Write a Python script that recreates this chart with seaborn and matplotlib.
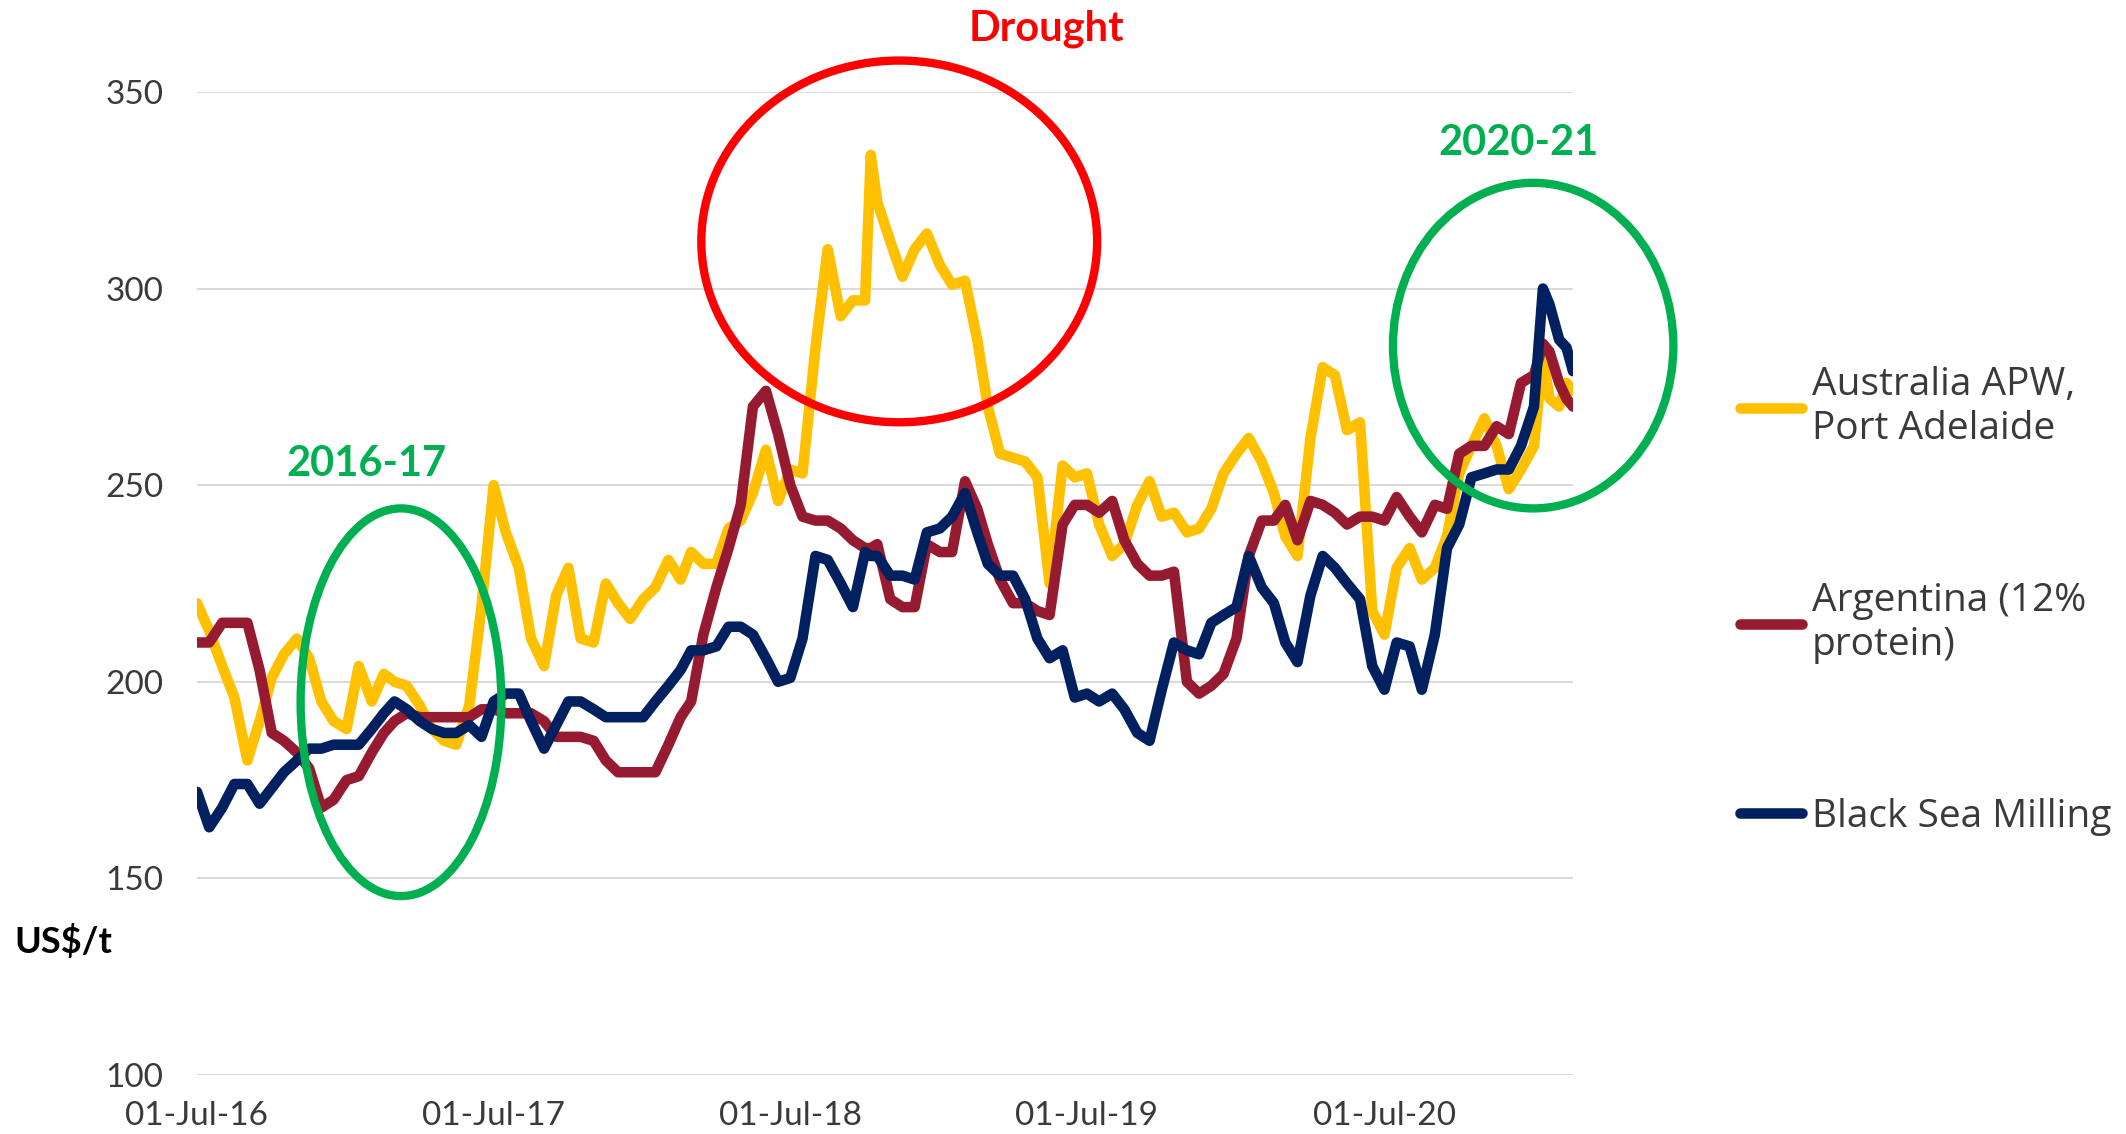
import matplotlib
matplotlib.use("Agg")
import matplotlib.pyplot as plt
import matplotlib.dates as mdates
from matplotlib.patches import Ellipse
import seaborn as sns
import pandas as pd

# ---------------- data ----------------
dates = [
    "2016-07-01", "2016-07-16", "2016-08-01", "2016-08-16", "2016-09-01", "2016-09-16",
    "2016-10-01", "2016-10-16", "2016-11-01", "2016-11-16", "2016-12-01", "2016-12-16",
    "2017-01-01", "2017-01-16", "2017-02-01", "2017-02-16", "2017-03-01", "2017-03-16",
    "2017-04-01", "2017-04-16", "2017-05-01", "2017-05-16", "2017-06-01", "2017-06-16",
    "2017-07-01", "2017-07-16", "2017-08-01", "2017-08-16", "2017-09-01", "2017-09-16",
    "2017-10-01", "2017-10-16", "2017-11-01", "2017-11-16", "2017-12-01", "2017-12-16",
    "2018-01-01", "2018-01-16", "2018-02-01", "2018-02-16", "2018-03-01", "2018-03-16",
    "2018-04-01", "2018-04-16", "2018-05-01", "2018-05-16", "2018-06-01", "2018-06-16",
    "2018-07-01", "2018-07-16", "2018-08-01", "2018-08-16", "2018-09-01", "2018-09-16",
    "2018-10-01", "2018-10-08", "2018-10-16", "2018-11-01", "2018-11-16", "2018-12-01",
    "2018-12-16",
    "2019-01-01", "2019-01-16", "2019-02-01", "2019-02-16", "2019-03-01", "2019-03-16",
    "2019-04-01", "2019-04-16", "2019-05-01", "2019-05-16", "2019-06-01", "2019-06-16",
    "2019-07-01", "2019-07-16", "2019-08-01", "2019-08-16", "2019-09-01", "2019-09-16",
    "2019-10-01", "2019-10-16", "2019-11-01", "2019-11-16", "2019-12-01", "2019-12-16",
    "2020-01-01", "2020-01-16", "2020-02-01", "2020-02-16", "2020-03-01", "2020-03-16",
    "2020-04-01", "2020-04-16", "2020-05-01", "2020-05-16", "2020-06-01", "2020-06-16",
    "2020-07-01", "2020-07-16", "2020-08-01", "2020-08-16", "2020-09-01", "2020-09-16",
    "2020-10-01", "2020-10-16", "2020-11-01", "2020-11-16", "2020-12-01", "2020-12-16",
    "2021-01-01", "2021-01-12", "2021-01-20", "2021-02-01", "2021-02-10", "2021-02-18",
]

australia_apw = [
    220, 213, 204, 196, 180, 190, 201, 207, 211, 206, 195, 190,
    188, 204, 195, 202, 200, 199, 194, 188, 185, 184, 194, 219,
    250, 238, 229, 211, 204, 222, 229, 211, 210, 225, 220, 216,
    221, 224, 231, 226, 233, 230, 230, 239, 241, 248, 259, 246,
    254, 253, 285, 310, 293, 297, 297, 334, 322, 312, 303, 310, 314,
    306, 301, 302, 287, 270, 258, 257, 256, 252, 225, 255, 252,
    253, 240, 232, 235, 245, 251, 242, 243, 238, 239, 244, 253,
    258, 262, 256, 248, 237, 232, 262, 280, 278, 264, 266, 218,
    212, 229, 234, 226, 229, 237, 253, 260, 267, 260, 249, 254,
    260, 283, 272, 270, 276, 274,
]

argentina = [
    210, 210, 215, 215, 215, 203, 187, 185, 182, 178, 168, 170,
    175, 176, 182, 187, 190, 192, 191, 191, 191, 191, 191, 193,
    193, 192, 192, 192, 190, 186, 186, 186, 185, 180, 177, 177,
    177, 177, 184, 191, 195, 212, 224, 234, 245, 270, 274, 263,
    250, 242, 241, 241, 239, 236, 234, 234, 235, 221, 219, 219, 235,
    233, 233, 251, 244, 235, 226, 220, 220, 218, 217, 240, 245,
    245, 243, 246, 236, 230, 227, 227, 228, 200, 197, 199, 202,
    211, 232, 241, 241, 245, 236, 246, 245, 243, 240, 242, 242,
    241, 247, 242, 238, 245, 244, 258, 260, 260, 265, 263, 276,
    278, 286, 284, 276, 272, 270,
]

black_sea_milling = [
    172, 163, 168, 174, 174, 169, 173, 177, 180, 183, 183, 184,
    184, 184, 188, 192, 195, 193, 190, 188, 187, 187, 189, 186,
    195, 197, 197, 190, 183, 189, 195, 195, 193, 191, 191, 191,
    191, 195, 199, 203, 208, 208, 209, 214, 214, 212, 206, 200,
    201, 211, 232, 231, 225, 219, 233, 232, 232, 227, 227, 226, 238,
    239, 242, 248, 238, 230, 227, 227, 221, 211, 206, 208, 196,
    197, 195, 197, 193, 187, 185, 198, 210, 208, 207, 215, 217,
    219, 232, 224, 220, 210, 205, 222, 232, 229, 225, 221, 204,
    198, 210, 209, 198, 212, 234, 240, 252, 253, 254, 254, 260,
    270, 300, 296, 287, 285, 279,
]

series_names = ["Australia APW, Port Adelaide", "Argentina (12% protein)", "Black Sea Milling"]
legend_labels = ["Australia APW,\nPort Adelaide", "Argentina (12%\nprotein)", "Black Sea Milling"]
series_colors = ["#FFC000", "#971B30", "#002060"]
x_tick_dates = ["2016-07-01", "2017-07-01", "2018-07-01", "2019-07-01", "2020-07-01"]
y_ticks = [100, 150, 200, 250, 300, 350]

# ---------------- frame ----------------
wide = pd.DataFrame({
    "date": pd.to_datetime(dates),
    series_names[0]: australia_apw,
    series_names[1]: argentina,
    series_names[2]: black_sea_milling,
})
long = wide.melt(id_vars="date", var_name="series", value_name="price")

sns.set_theme(style="white")
plt.rcParams["font.family"] = ["Lato", "DejaVu Sans"]

W, H = 2126, 1134
fig = plt.figure(figsize=(W / 200, H / 200), dpi=200)
L, R, T, B = 197, 1573, 92, 1075
ax = fig.add_axes([L / W, 1 - B / H, (R - L) / W, (B - T) / H])

sns.lineplot(
    data=long, x="date", y="price", hue="series", hue_order=series_names,
    palette=dict(zip(series_names, series_colors)), linewidth=3.8,
    estimator=None, ax=ax,
)
for ln in ax.lines:
    ln.set_solid_capstyle("round")
    ln.set_solid_joinstyle("round")

ax.set_xlim(pd.Timestamp("2016-07-01"), pd.Timestamp("2021-02-18"))
ax.set_ylim(100, 350)
ax.set_yticks(y_ticks)
ax.set_xticks(pd.to_datetime(x_tick_dates))
ax.xaxis.set_major_formatter(mdates.DateFormatter("%d-%b-%y"))
ax.set_xlabel("")
ax.set_ylabel("")
ax.grid(axis="y", color="#D9D9D9", linewidth=0.7)
ax.grid(axis="x", visible=False)
for s in ax.spines.values():
    s.set_visible(False)
ax.tick_params(axis="both", length=0, labelsize=12, labelcolor="#3A3A3A")
ax.tick_params(axis="x", pad=9.5)
ax.tick_params(axis="y", pad=12)

# legend
handles, _ = ax.get_legend_handles_labels()
leg = ax.legend(
    handles[:3], legend_labels, loc="upper left",
    bbox_to_anchor=(1740 / W, 1 - 366 / H), bbox_transform=fig.transFigure,
    frameon=False, borderpad=0, borderaxespad=0, handlelength=1.6,
    handletextpad=0.25, labelspacing=3.45,
    prop={"family": "Open Sans", "size": 14},
)
for t in leg.get_texts():
    t.set_color("#3A3A3A")
for lh in leg.get_lines():
    lh.set_linewidth(3.8)
    lh.set_solid_capstyle("round")

# annotation ellipses
def dnum(s):
    return mdates.date2num(pd.Timestamp(s))

ellipses = [
    ("2017-03-09", 194.8, 247, 98.6, "#00B050"),
    ("2018-11-12", 312.0, 487, 92.0, "#FF0000"),
    ("2020-12-31", 285.5, 345, 82.8, "#00B050"),
]
for c, yv, w, h, col in ellipses:
    e = Ellipse((dnum(c), yv), w, h, fill=False, edgecolor=col,
                linewidth=3.0, clip_on=False, zorder=5)
    ax.add_patch(e)

ax.text(dnum("2019-05-12"), 366, "Drought", color="#FF0000", fontsize=15,
        fontweight="bold", ha="center", va="center", clip_on=False)
ax.text(dnum("2020-12-13"), 337, "2020-21", color="#00B050", fontsize=15,
        fontweight="bold", ha="center", va="center", clip_on=False)
ax.text(dnum("2017-01-25"), 255.5, "2016-17", color="#00B050", fontsize=15,
        fontweight="bold", ha="center", va="center", clip_on=False)

fig.text(14 / W, 1 - 941 / H, "US$/t", fontsize=13, fontweight="bold",
         color="black", ha="left", va="center")

fig.savefig("out.png", dpi=200)
